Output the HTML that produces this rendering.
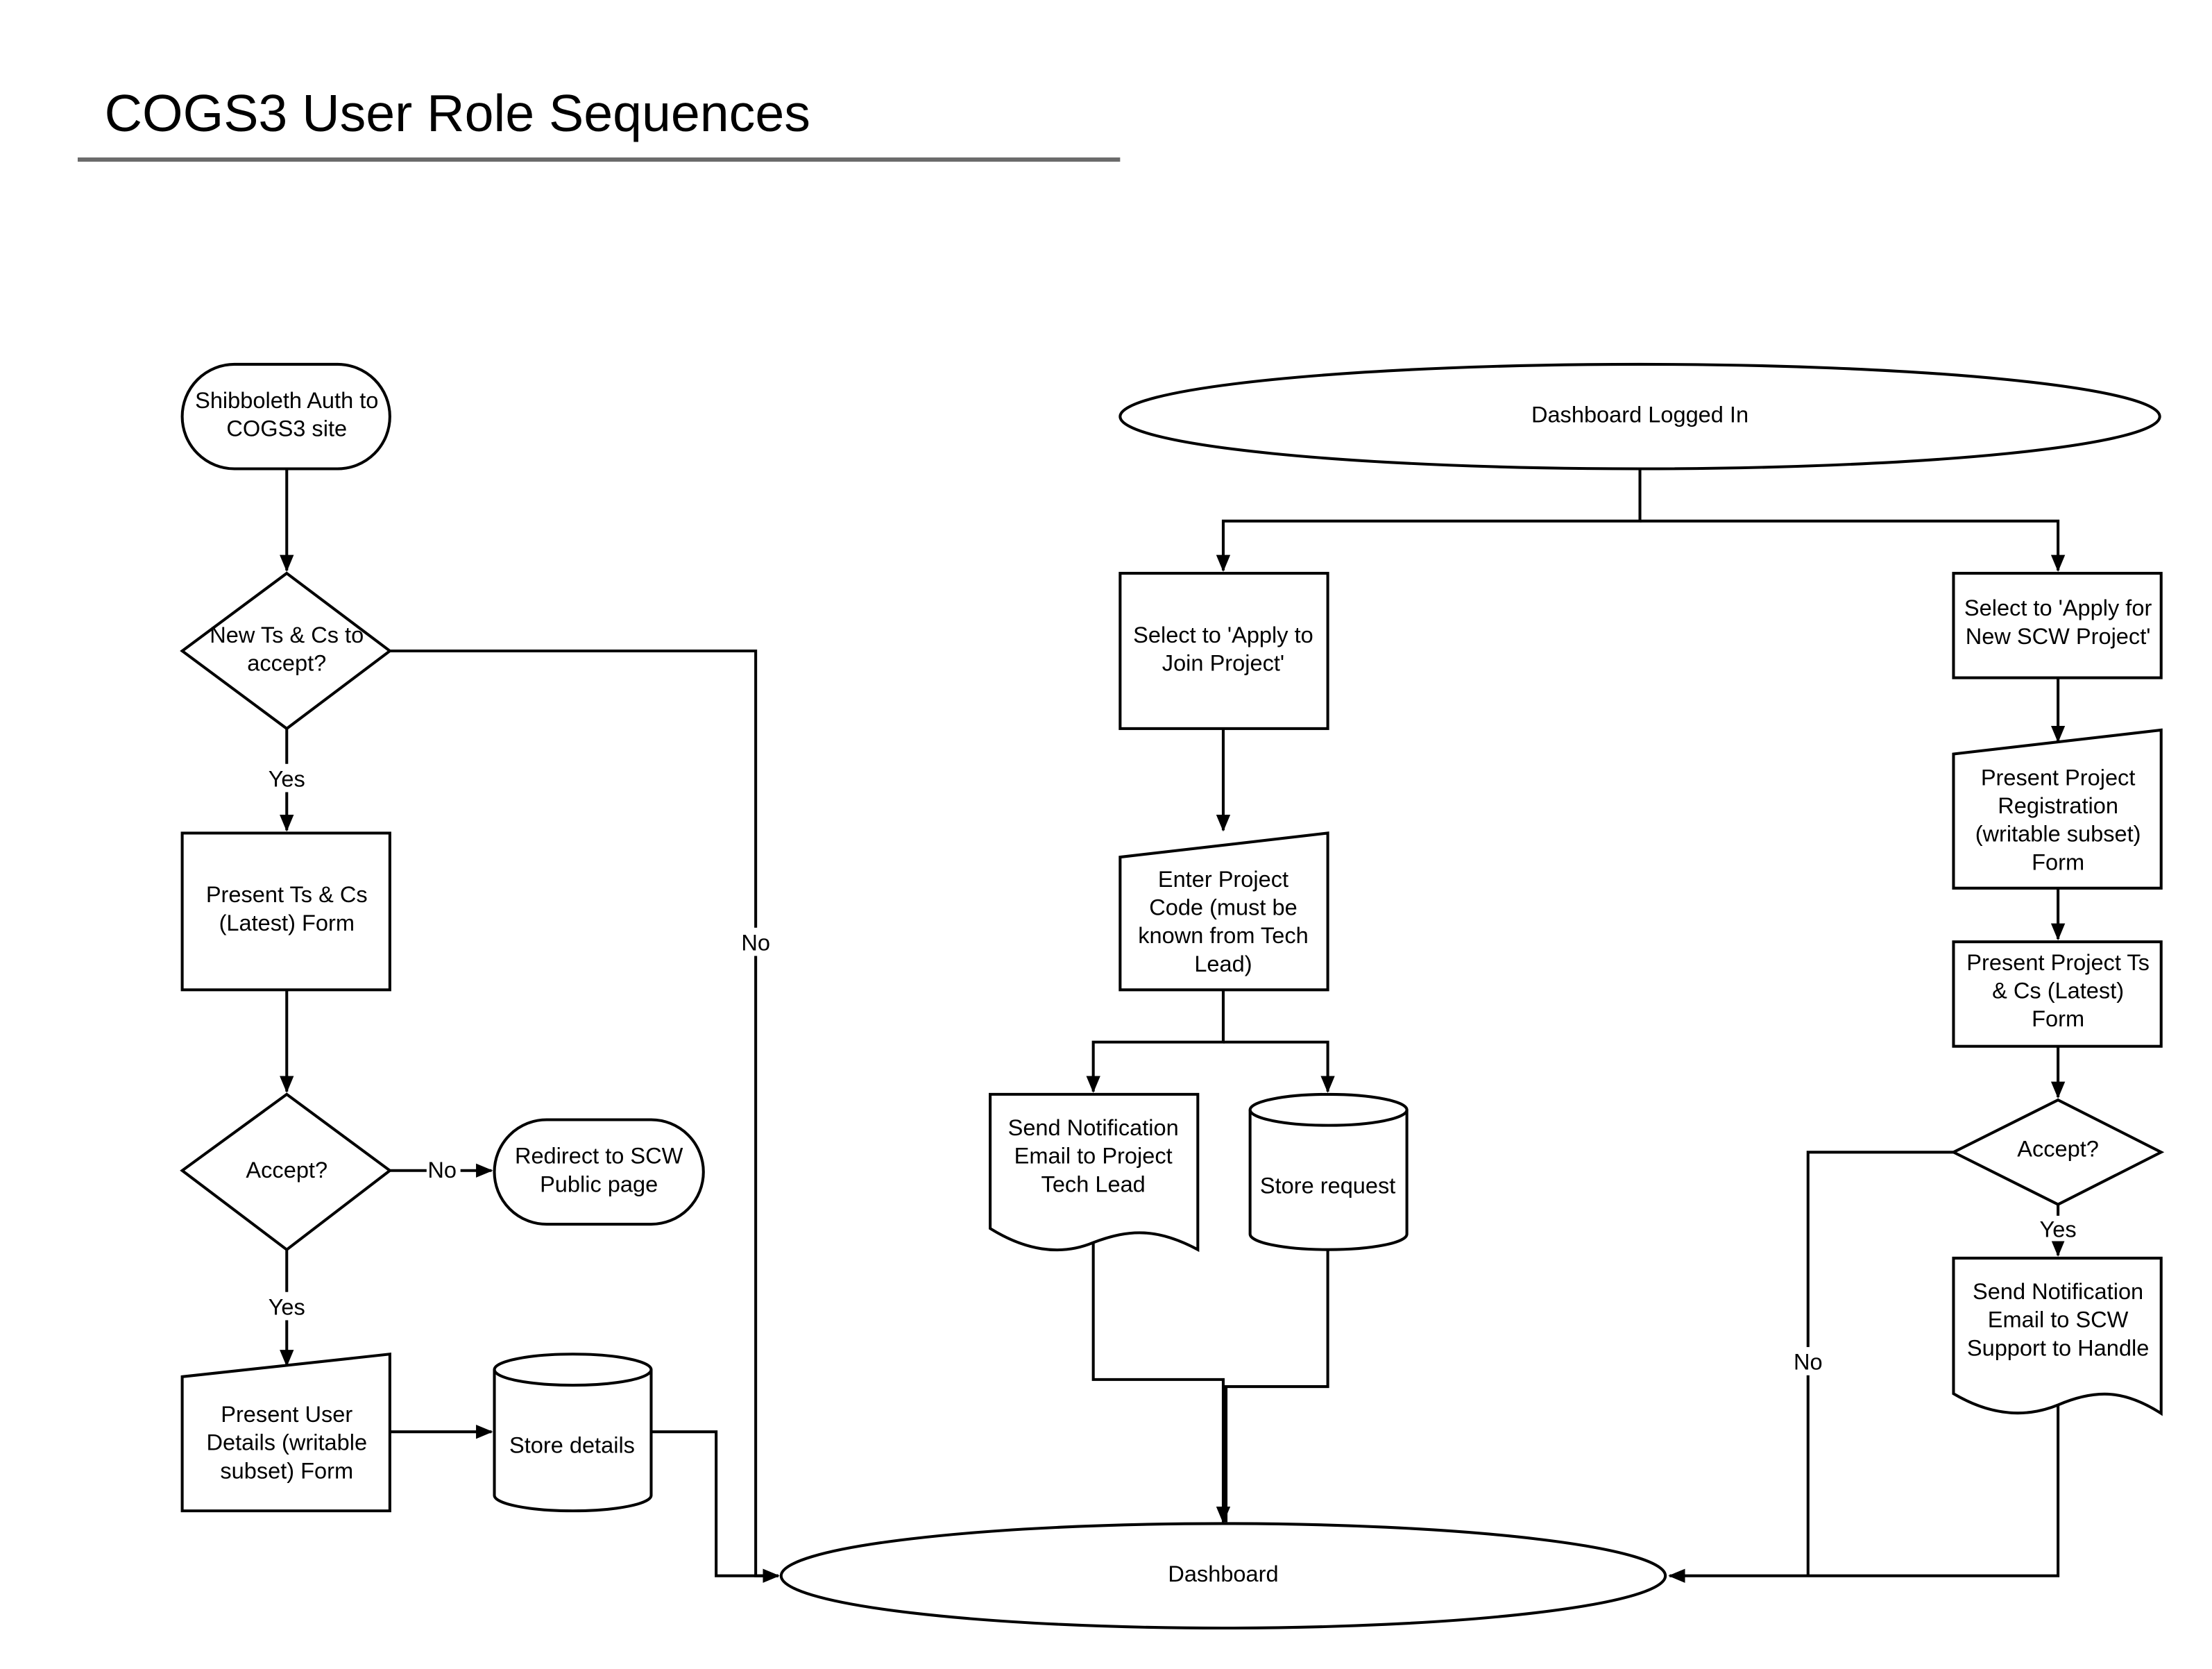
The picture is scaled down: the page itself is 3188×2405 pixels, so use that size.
<!DOCTYPE html>
<html><head><meta charset="utf-8"><style>
html,body{margin:0;padding:0;background:#fff;}
svg{display:block;}
text{font-family:"Liberation Sans",Arial,sans-serif;font-size:16px;fill:#000;text-anchor:middle;}
.s{fill:#fff;stroke:#000;stroke-width:2;}
.l{fill:none;stroke:#000;stroke-width:2;}
</style></head><body>
<svg width="3188" height="2405" viewBox="0 0 1566 1182" preserveAspectRatio="none" xmlns="http://www.w3.org/2000/svg">
<defs><marker id="a" markerWidth="12" markerHeight="10" refX="11" refY="5" orient="auto" markerUnits="userSpaceOnUse"><path d="M0,0 L12,5 L0,10 Z" fill="#000"/></marker></defs>
<rect width="1566" height="1182" fill="#fff"/>
<text x="74" y="93" style="font-size:37px;text-anchor:start">COGS3 User Role Sequences</text>
<line x1="55" y1="113" x2="793" y2="113" stroke="#6b6b6b" stroke-width="3"/>

<rect class="s" x="129" y="258" width="147" height="74" rx="37"/>
<text x="203" y="289">Shibboleth Auth to</text><text x="203" y="309">COGS3 site</text>
<line class="l" x1="203" y1="332" x2="203" y2="404" marker-end="url(#a)"/>
<polygon class="s" points="203,406 276,461 203,516 129,461"/>
<text x="203" y="455">New Ts &amp; Cs to</text><text x="203" y="475">accept?</text>
<polyline class="l" points="276,461 535,461 535,1116 551,1116" marker-end="url(#a)"/>
<rect x="520" y="657" width="30" height="20" fill="#fff"/><text x="535" y="673">No</text>
<line class="l" x1="203" y1="516" x2="203" y2="588" marker-end="url(#a)"/>
<rect x="185" y="541" width="36" height="20" fill="#fff"/><text x="203" y="557">Yes</text>
<rect class="s" x="129" y="590" width="147" height="111"/>
<text x="203" y="639">Present Ts &amp; Cs</text><text x="203" y="659">(Latest) Form</text>
<line class="l" x1="203" y1="701" x2="203" y2="773" marker-end="url(#a)"/>
<polygon class="s" points="203,775 276,829 203,885 129,829"/>
<text x="203" y="834">Accept?</text>
<line class="l" x1="276" y1="829" x2="348" y2="829" marker-end="url(#a)"/>
<rect x="302" y="819" width="24" height="20" fill="#fff"/><text x="313" y="834">No</text>
<rect class="s" x="350" y="793" width="148" height="74" rx="37"/>
<text x="424" y="824">Redirect to SCW</text><text x="424" y="844">Public page</text>
<line class="l" x1="203" y1="885" x2="203" y2="967" marker-end="url(#a)"/>
<rect x="185" y="915" width="36" height="20" fill="#fff"/><text x="203" y="931">Yes</text>
<polygon class="s" points="129,975 276,959 276,1070 129,1070"/>
<text x="203" y="1007">Present User</text><text x="203" y="1027">Details (writable</text><text x="203" y="1047">subset) Form</text>
<line class="l" x1="276" y1="1014" x2="348" y2="1014" marker-end="url(#a)"/>
<path class="s" d="M350,970 A55.5,11 0 0 1 461,970 L461,1059 A55.5,11 0 0 1 350,1059 Z"/>
<path class="l" d="M350,970 A55.5,11 0 0 0 461,970"/>
<text x="405" y="1029">Store details</text>
<polyline class="l" points="461,1014 507,1014 507,1116 551,1116" marker-end="url(#a)"/>

<ellipse class="s" cx="866" cy="1116" rx="313" ry="37"/>
<text x="866" y="1120">Dashboard</text>

<ellipse class="s" cx="1161" cy="295" rx="368" ry="37"/>
<text x="1161" y="299">Dashboard Logged In</text>
<polyline class="l" points="1161,332 1161,369 866,369 866,404" marker-end="url(#a)"/>
<polyline class="l" points="1161,369 1457,369 1457,404" marker-end="url(#a)"/>
<rect class="s" x="793" y="406" width="147" height="110"/>
<text x="866" y="455">Select to 'Apply to</text><text x="866" y="475">Join Project'</text>
<line class="l" x1="866" y1="516" x2="866" y2="588" marker-end="url(#a)"/>
<polygon class="s" points="793,607 940,590 940,701 793,701"/>
<text x="866" y="628">Enter Project</text><text x="866" y="648">Code (must be</text><text x="866" y="668">known from Tech</text><text x="866" y="688">Lead)</text>
<polyline class="l" points="866,701 866,738 774,738 774,773" marker-end="url(#a)"/>
<polyline class="l" points="866,738 940,738 940,773" marker-end="url(#a)"/>
<path class="s" d="M701,775 L848,775 L848,885 C820,870 800,870 774,880 C750,890 725,885 701,870 Z"/>
<text x="774" y="804">Send Notification</text><text x="774" y="824">Email to Project</text><text x="774" y="844">Tech Lead</text>
<path class="s" d="M885,786 A55.5,11 0 0 1 996,786 L996,874 A55.5,11 0 0 1 885,874 Z"/>
<path class="l" d="M885,786 A55.5,11 0 0 0 996,786"/>
<text x="940" y="845">Store request</text>
<polyline class="l" points="774,880 774,977 866,977 866,1078" marker-end="url(#a)"/>
<polyline class="l" points="940,885 940,982 868,982 868,1078"/>

<rect class="s" x="1383" y="406" width="147" height="74"/>
<text x="1457" y="436">Select to 'Apply for</text><text x="1457" y="456">New SCW Project'</text>
<line class="l" x1="1457" y1="480" x2="1457" y2="525" marker-end="url(#a)"/>
<polygon class="s" points="1383,534 1530,517 1530,629 1383,629"/>
<text x="1457" y="556">Present Project</text><text x="1457" y="576">Registration</text><text x="1457" y="596">(writable subset)</text><text x="1457" y="616">Form</text>
<line class="l" x1="1457" y1="629" x2="1457" y2="665" marker-end="url(#a)"/>
<rect class="s" x="1383" y="667" width="147" height="74"/>
<text x="1457" y="687">Present Project Ts</text><text x="1457" y="707">&amp; Cs (Latest)</text><text x="1457" y="727">Form</text>
<line class="l" x1="1457" y1="741" x2="1457" y2="777" marker-end="url(#a)"/>
<polygon class="s" points="1457,779 1530,816 1457,853 1383,816"/>
<text x="1457" y="819">Accept?</text>
<line class="l" x1="1457" y1="853" x2="1457" y2="889" marker-end="url(#a)"/>
<rect x="1440" y="861" width="34" height="18" fill="#fff"/><text x="1457" y="876">Yes</text>
<path class="s" d="M1383,891 L1530,891 L1530,1001 C1505,985 1485,983 1457,995 C1430,1006 1405,1000 1383,987 Z"/>
<text x="1457" y="920">Send Notification</text><text x="1457" y="940">Email to SCW</text><text x="1457" y="960">Support to Handle</text>
<polyline class="l" points="1457,995 1457,1116 1182,1116" marker-end="url(#a)"/>
<polyline class="l" points="1383,816 1280,816 1280,1116"/>
<rect x="1266" y="954" width="28" height="20" fill="#fff"/><text x="1280" y="970">No</text>
</svg>
</body></html>
